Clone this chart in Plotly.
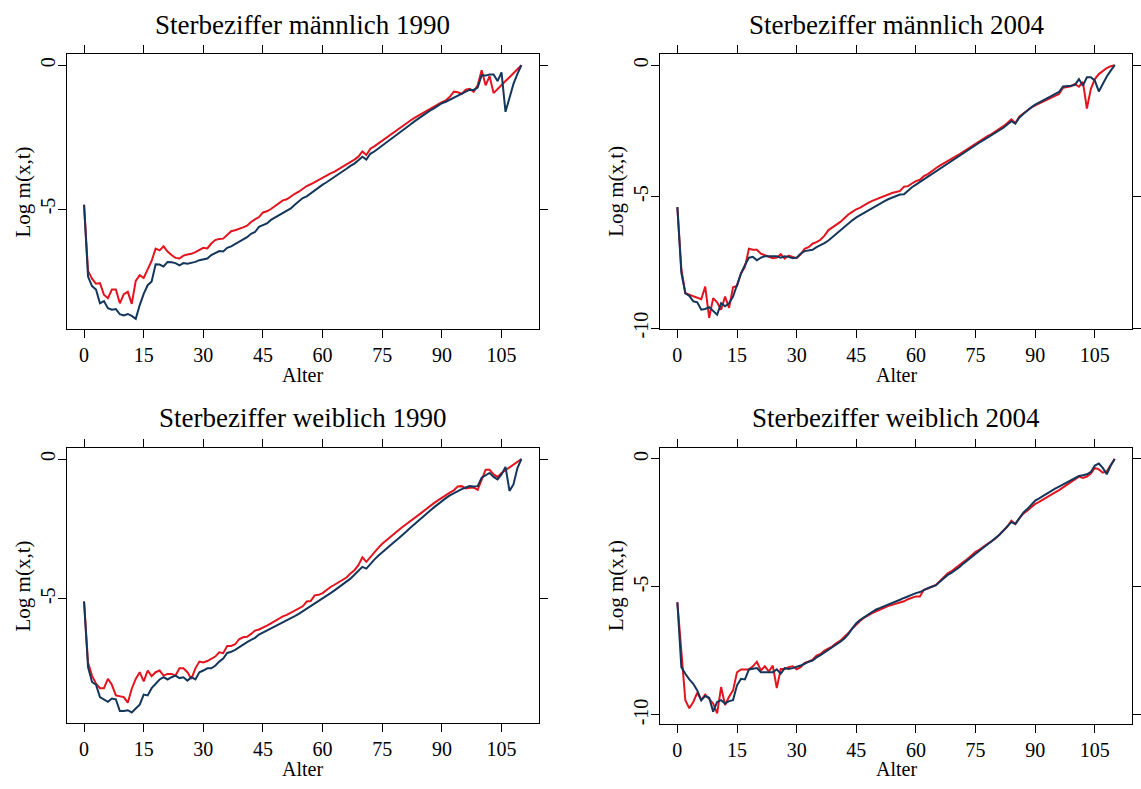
import plotly.graph_objects as go

# Alter 0..110
alter = list(range(111))

# Log-Sterbeziffern, Männer 1990
rot_m1990 = [
    -4.85, -7.15, -7.42, -7.60, -7.58, -7.98, -8.10, -7.80, -7.80, -8.28,
    -7.96, -7.88, -8.30, -7.50, -7.30, -7.40, -7.10, -6.80, -6.38, -6.44,
    -6.30, -6.48, -6.60, -6.70, -6.72, -6.62, -6.58, -6.56, -6.50, -6.42,
    -6.35, -6.37, -6.20, -6.08, -6.04, -6.03, -5.90, -5.77, -5.74, -5.70,
    -5.64, -5.58, -5.45, -5.36, -5.28, -5.12, -5.08, -5.00, -4.90, -4.82,
    -4.70, -4.66, -4.56, -4.47, -4.40, -4.30, -4.20, -4.14, -4.06, -4.00,
    -3.92, -3.84, -3.76, -3.70, -3.62, -3.53, -3.46, -3.37, -3.28, -3.18,
    -3.00, -3.12, -2.90, -2.82, -2.72, -2.60, -2.50, -2.40, -2.30, -2.20,
    -2.10, -2.02, -1.93, -1.84, -1.76, -1.68, -1.60, -1.50, -1.42, -1.36,
    -1.28, -1.22, -1.10, -0.92, -0.94, -1.00, -0.85, -0.82, -0.92, -0.70,
    -0.17, -0.70, -0.38, -0.97, -0.83, -0.66, -0.55, -0.42, -0.28, -0.14,
    0.00,
]
blau_m1990 = [
    -4.85, -7.35, -7.68, -7.80, -8.28, -8.20, -8.45, -8.50, -8.48, -8.66,
    -8.70, -8.65, -8.72, -8.82, -8.34, -7.95, -7.65, -7.52, -6.92, -6.93,
    -7.00, -6.84, -6.85, -6.88, -6.96, -6.88, -6.90, -6.88, -6.84, -6.78,
    -6.74, -6.72, -6.60, -6.52, -6.46, -6.48, -6.35, -6.30, -6.22, -6.16,
    -6.08, -5.98, -5.86, -5.80, -5.62, -5.55, -5.50, -5.38, -5.30, -5.20,
    -5.13, -5.06, -4.98, -4.85, -4.72, -4.62, -4.56, -4.45, -4.35, -4.24,
    -4.15, -4.07, -3.98, -3.90, -3.80, -3.70, -3.60, -3.50, -3.42, -3.30,
    -3.18, -3.28, -3.08, -3.00, -2.90, -2.78, -2.68, -2.58, -2.48, -2.37,
    -2.27, -2.17, -2.07, -1.96, -1.86, -1.76, -1.67, -1.58, -1.50, -1.40,
    -1.32, -1.27, -1.20, -1.12, -1.06, -1.00, -0.92, -0.85, -0.86, -0.78,
    -0.35, -0.36, -0.32, -0.32, -0.55, -0.25, -1.62, -1.15, -0.65, -0.30,
    0.00,
]

# Log-Sterbeziffern, Männer 2004
rot_m2004 = [
    -5.40, -7.75, -8.67, -8.73, -8.77, -8.86, -8.90, -8.42, -9.61, -8.86,
    -9.02, -9.30, -8.80, -9.23, -8.45, -8.40, -7.92, -7.67, -6.98, -7.02,
    -7.02, -7.17, -7.23, -7.29, -7.34, -7.32, -7.19, -7.36, -7.24, -7.29,
    -7.34, -7.19, -6.98, -6.92, -6.79, -6.73, -6.64, -6.48, -6.27, -6.17,
    -6.08, -5.96, -5.82, -5.68, -5.58, -5.48, -5.42, -5.32, -5.24, -5.16,
    -5.10, -5.02, -4.96, -4.90, -4.86, -4.82, -4.78, -4.62, -4.60, -4.50,
    -4.41, -4.36, -4.22, -4.14, -4.02, -3.92, -3.82, -3.74, -3.64, -3.56,
    -3.47, -3.38, -3.28, -3.18, -3.08, -2.97, -2.88, -2.80, -2.70, -2.62,
    -2.53, -2.42, -2.32, -2.20, -2.06, -2.20, -1.96, -1.84, -1.72, -1.62,
    -1.53, -1.46, -1.38, -1.32, -1.22, -1.18, -1.10, -0.86, -0.84, -0.80,
    -0.71, -0.82, -0.64, -1.65, -0.90, -0.53, -0.34, -0.21, -0.11, -0.04,
    0.00,
]
blau_m2004 = [
    -5.40, -7.90, -8.67, -8.77, -8.98, -9.02, -9.30, -9.27, -9.20, -9.36,
    -9.49, -9.05, -9.17, -9.05, -8.80, -8.36, -7.92, -7.60, -7.32, -7.29,
    -7.42, -7.32, -7.27, -7.27, -7.27, -7.27, -7.32, -7.27, -7.29, -7.34,
    -7.32, -7.17, -7.07, -7.04, -7.02, -6.92, -6.85, -6.77, -6.67, -6.54,
    -6.40, -6.27, -6.14, -6.02, -5.90, -5.79, -5.70, -5.60, -5.52, -5.44,
    -5.35, -5.27, -5.18, -5.10, -5.03, -4.97, -4.92, -4.91, -4.76, -4.64,
    -4.54, -4.44, -4.34, -4.22, -4.12, -4.01, -3.92, -3.82, -3.72, -3.62,
    -3.53, -3.43, -3.32, -3.22, -3.12, -3.03, -2.94, -2.85, -2.76, -2.68,
    -2.59, -2.48, -2.38, -2.26, -2.13, -2.22, -2.00, -1.86, -1.72, -1.60,
    -1.50, -1.42, -1.32, -1.24, -1.16, -1.09, -1.02, -0.81, -0.80, -0.78,
    -0.75, -0.53, -0.78, -0.46, -0.46, -0.59, -1.00, -0.71, -0.43, -0.21,
    0.00,
]

# Log-Sterbeziffern, Frauen 1990
rot_w1990 = [
    -5.10, -7.28, -7.75, -8.04, -8.20, -8.20, -7.87, -8.08, -8.46, -8.48,
    -8.52, -8.72, -8.22, -7.87, -7.63, -7.96, -7.57, -7.77, -7.63, -7.57,
    -7.75, -7.69, -7.69, -7.75, -7.49, -7.49, -7.63, -7.87, -7.49, -7.25,
    -7.28, -7.23, -7.16, -7.07, -6.92, -6.95, -6.69, -6.69, -6.63, -6.45,
    -6.38, -6.36, -6.26, -6.14, -6.10, -6.04, -5.96, -5.88, -5.80, -5.70,
    -5.63, -5.58, -5.50, -5.40, -5.34, -5.27, -5.10, -5.08, -4.88, -4.86,
    -4.80, -4.68, -4.58, -4.50, -4.42, -4.33, -4.24, -4.10, -3.98, -3.80,
    -3.52, -3.68, -3.50, -3.32, -3.18, -3.03, -2.92, -2.80, -2.68, -2.56,
    -2.44, -2.34, -2.22, -2.12, -2.02, -1.91, -1.80, -1.68, -1.58, -1.48,
    -1.38, -1.30, -1.20, -1.12, -0.98, -0.97, -1.05, -1.03, -1.02, -1.10,
    -0.71, -0.38, -0.38, -0.55, -0.64, -0.50, -0.40, -0.30, -0.20, -0.10,
    0.00,
]
blau_w1990 = [
    -5.10, -7.45, -7.98, -8.08, -8.52, -8.60, -8.69, -8.57, -8.60, -9.02,
    -9.02, -8.99, -9.07, -8.93, -8.79, -8.43, -8.46, -8.20, -8.04, -7.89,
    -7.81, -7.89, -7.81, -7.75, -7.84, -7.81, -7.93, -7.81, -7.89, -7.63,
    -7.57, -7.49, -7.49, -7.40, -7.25, -7.14, -6.94, -6.90, -6.83, -6.73,
    -6.62, -6.55, -6.47, -6.40, -6.28, -6.21, -6.14, -6.06, -6.00, -5.93,
    -5.86, -5.78, -5.70, -5.62, -5.54, -5.45, -5.36, -5.27, -5.18, -5.09,
    -5.00, -4.90, -4.80, -4.70, -4.60, -4.50, -4.40, -4.28, -4.14, -4.00,
    -3.86, -3.92, -3.74, -3.60, -3.46, -3.33, -3.21, -3.09, -2.97, -2.85,
    -2.74, -2.60, -2.47, -2.34, -2.22, -2.09, -1.97, -1.85, -1.73, -1.61,
    -1.50, -1.40, -1.30, -1.22, -1.15, -1.08, -1.02, -0.97, -0.98, -0.97,
    -0.67, -0.59, -0.50, -0.64, -0.73, -0.55, -0.28, -1.14, -0.91, -0.32,
    0.00,
]

# Log-Sterbeziffern, Frauen 2004
rot_w2004 = [
    -5.60, -7.56, -9.42, -9.74, -9.49, -9.13, -9.42, -9.20, -9.36, -9.55,
    -9.94, -8.91, -9.61, -9.29, -9.04, -8.33, -8.22, -8.22, -8.22, -8.10,
    -7.92, -8.26, -8.10, -8.30, -8.07, -8.95, -8.20, -8.20, -8.13, -8.10,
    -8.22, -8.13, -7.97, -7.92, -7.84, -7.68, -7.62, -7.49, -7.40, -7.32,
    -7.19, -7.10, -6.94, -6.80, -6.62, -6.46, -6.32, -6.20, -6.10, -6.02,
    -5.95, -5.88, -5.80, -5.75, -5.70, -5.66, -5.62, -5.56, -5.48, -5.42,
    -5.37, -5.37, -5.11, -5.06, -4.98, -4.92, -4.78, -4.62, -4.47, -4.38,
    -4.27, -4.16, -4.02, -3.90, -3.76, -3.63, -3.54, -3.42, -3.32, -3.22,
    -3.11, -2.96, -2.80, -2.64, -2.41, -2.54, -2.32, -2.14, -2.02, -1.88,
    -1.76, -1.68, -1.58, -1.48, -1.40, -1.31, -1.22, -1.12, -1.02, -0.92,
    -0.80, -0.69, -0.74, -0.69, -0.57, -0.35, -0.41, -0.54, -0.48, -0.22,
    0.00,
]
blau_w2004 = [
    -5.60, -8.13, -8.39, -8.61, -8.78, -9.04, -9.42, -9.26, -9.33, -9.87,
    -9.49, -9.42, -9.55, -9.46, -9.42, -8.84, -8.59, -8.61, -8.22, -8.20,
    -8.17, -8.33, -8.33, -8.33, -8.33, -8.22, -8.39, -8.17, -8.20, -8.17,
    -8.13, -8.07, -8.00, -7.92, -7.88, -7.75, -7.66, -7.56, -7.45, -7.36,
    -7.27, -7.14, -7.01, -6.84, -6.62, -6.42, -6.28, -6.18, -6.06, -5.96,
    -5.88, -5.82, -5.76, -5.71, -5.64, -5.59, -5.50, -5.43, -5.36, -5.28,
    -5.24, -5.20, -5.11, -5.05, -4.99, -4.94, -4.80, -4.66, -4.53, -4.44,
    -4.34, -4.22, -4.08, -3.95, -3.82, -3.69, -3.58, -3.46, -3.34, -3.22,
    -3.11, -2.96, -2.80, -2.64, -2.47, -2.54, -2.30, -2.10, -1.96, -1.80,
    -1.63, -1.54, -1.44, -1.34, -1.24, -1.16, -1.08, -1.00, -0.90, -0.81,
    -0.73, -0.67, -0.64, -0.60, -0.51, -0.26, -0.18, -0.35, -0.60, -0.26,
    0.00,
]

titel = [
    "Sterbeziffer männlich 1990",
    "Sterbeziffer männlich 2004",
    "Sterbeziffer weiblich 1990",
    "Sterbeziffer weiblich 2004",
]
x_ticks = [0, 15, 30, 45, 60, 75, 90, 105]
y_ticks = [[0, -5], [0, -5, -10], [0, -5], [0, -5, -10]]
y_ranges = [[-9.18, 0.378], [-10.04, 0.41], [-9.46, 0.39], [-10.35, 0.42]]
x_range = [-4.4, 114.4]

reihen = [
    (rot_m1990, blau_m1990),
    (rot_m2004, blau_m2004),
    (rot_w1990, blau_w1990),
    (rot_w2004, blau_w2004),
]

W, H = 1141, 789
FONT = "Liberation Serif"
ROT = "#E3141E"
BLAU = "#13375C"

# plot boxes in pixels: (left, right, top, bottom)
boxes = [
    (66.8, 540.8, 55.0, 333.0),
    (662.2, 1136.2, 55.0, 333.0),
    (66.8, 540.8, 453.3, 731.7),
    (662.2, 1136.2, 453.3, 732.3),
]

fig = go.Figure()
layout = dict(
    width=W, height=H, autosize=False,
    margin=dict(l=0, r=0, t=0, b=0),
    paper_bgcolor="white", plot_bgcolor="white",
    showlegend=False,
    font=dict(family=FONT, color="black"),
)
annotations = []

for i, ((rot, blau), (l, r, t, b)) in enumerate(zip(reihen, boxes)):
    n = "" if i == 0 else str(i + 1)
    xa, ya = "x" + n, "y" + n
    fig.add_trace(go.Scatter(x=alter, y=rot, mode="lines", xaxis=xa, yaxis=ya,
                             line=dict(color=ROT, width=2)))
    fig.add_trace(go.Scatter(x=alter, y=blau, mode="lines", xaxis=xa, yaxis=ya,
                             line=dict(color=BLAU, width=2)))
    common = dict(showgrid=False, zeroline=False, showline=True, linecolor="black",
                  linewidth=1, mirror="ticks", ticks="outside", ticklen=8,
                  tickwidth=1, tickcolor="black",
                  tickfont=dict(family=FONT, size=20, color="black"))
    layout["xaxis" + n] = dict(common, domain=[l / W, r / W], anchor=ya,
                               range=x_range, tickvals=x_ticks,
                               ticktext=[str(v) for v in x_ticks])
    layout["yaxis" + n] = dict(common, domain=[1 - b / H, 1 - t / H], anchor=xa,
                               range=y_ranges[i], tickvals=y_ticks[i],
                               ticktext=[str(v) for v in y_ticks[i]],
                               tickangle=-90, ticklabelstandoff=-5)
    cx = (l + r) / 2
    annotations.append(dict(text=titel[i], x=cx / W, y=1 - (t - 30) / H,
                            xref="paper", yref="paper", showarrow=False,
                            xanchor="center", yanchor="middle",
                            font=dict(family=FONT, size=27, color="black")))
    annotations.append(dict(text="Alter", x=cx / W, y=1 - (b + 46) / H,
                            xref="paper", yref="paper", showarrow=False,
                            xanchor="center", yanchor="middle",
                            font=dict(family=FONT, size=20, color="black")))
    annotations.append(dict(text="Log m(x,t)", x=(l - 44) / W, y=1 - ((t + b) / 2) / H,
                            xref="paper", yref="paper", showarrow=False,
                            xanchor="center", yanchor="middle", textangle=-90,
                            font=dict(family=FONT, size=21, color="black")))

layout["annotations"] = annotations
fig.update_layout(**layout)
fig.write_html("out.html")
